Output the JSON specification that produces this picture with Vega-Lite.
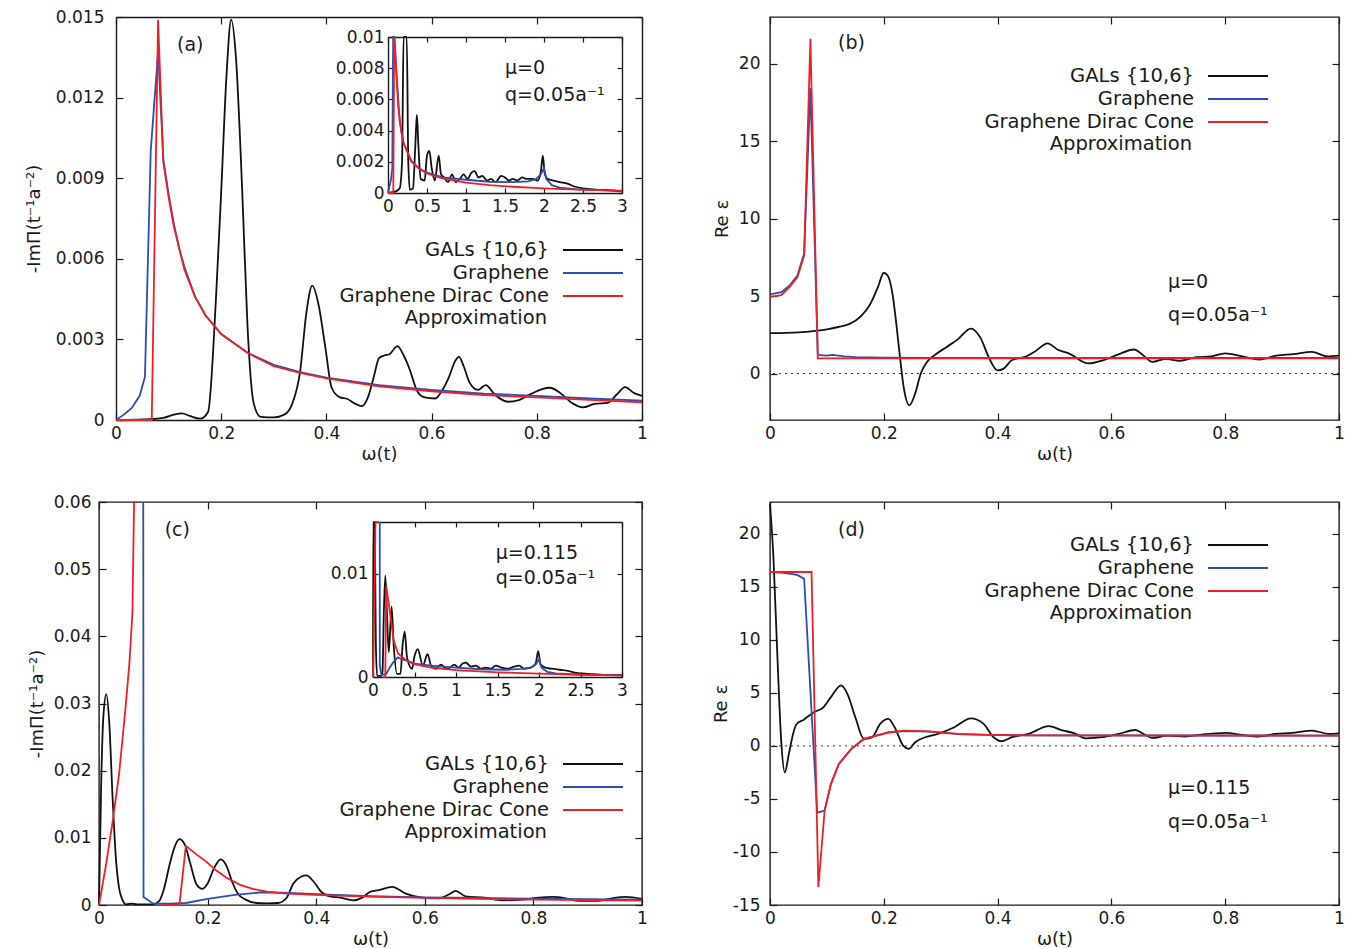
{
"$schema": "https://vega.github.io/schema/vega-lite/v6.json",
"background": "white",
"padding": {"left": 25, "top": 8, "right": 0, "bottom": 0},
"config": {
 "font": "DejaVu Sans",
 "view": {"stroke": "#1a1a1a", "strokeWidth": 1.4},
 "axis": {"grid": false, "domain": false, "labelFont": "DejaVu Sans", "labelFontSize": 17, "labelColor": "#1a1a1a", "tickColor": "#1a1a1a", "tickSize": -7, "tickWidth": 1.2, "titleFont": "DejaVu Sans", "titleFontSize": 18, "titleFontWeight": "normal", "titleColor": "#1a1a1a", "labelFlush": false, "labelOverlap": false, "domainColor": "#1a1a1a", "domainWidth": 1.4},
 "axisX": {"labelPadding": 12, "titlePadding": 4},
 "axisY": {"labelPadding": 19, "titlePadding": 12},
 "legend": {"orient": "none", "gridAlign": "each", "labelFont": "DejaVu Sans", "labelFontSize": 19.5, "labelColor": "#1a1a1a", "symbolType": "M-3,0H3", "symbolSize": 400, "symbolStrokeWidth": 2, "labelAlign": "right", "labelBaseline": "middle", "labelOffset": -55, "rowPadding": 2, "padding": 0, "labelLimit": 500},
 "text": {"font": "DejaVu Sans", "fontSize": 19, "color": "#1a1a1a", "align": "left", "baseline": "middle"},
 "line": {"strokeWidth": 1.8}
},
"datasets": {
 "a": [
  {"series":"GALs {10,6}","x":0,"y":0},{"series":"GALs {10,6}","x":0.05,"y":0.00002},{"series":"GALs {10,6}","x":0.09,"y":0.00008},{"series":"GALs {10,6}","x":0.11,"y":0.0002},{"series":"GALs {10,6}","x":0.125,"y":0.00025},{"series":"GALs {10,6}","x":0.14,"y":0.00015},{"series":"GALs {10,6}","x":0.16,"y":0.00005},{"series":"GALs {10,6}","x":0.175,"y":0.0003},{"series":"GALs {10,6}","x":0.19,"y":0.0045},{"series":"GALs {10,6}","x":0.2,"y":0.0085},{"series":"GALs {10,6}","x":0.21,"y":0.0128},{"series":"GALs {10,6}","x":0.219,"y":0.0149},{"series":"GALs {10,6}","x":0.228,"y":0.0135},{"series":"GALs {10,6}","x":0.24,"y":0.0085},{"series":"GALs {10,6}","x":0.25,"y":0.0035},{"series":"GALs {10,6}","x":0.262,"y":0.0006},{"series":"GALs {10,6}","x":0.275,"y":0.00012},{"series":"GALs {10,6}","x":0.3,"y":0.0001},{"series":"GALs {10,6}","x":0.32,"y":0.0002},{"series":"GALs {10,6}","x":0.335,"y":0.0006},{"series":"GALs {10,6}","x":0.35,"y":0.0018},{"series":"GALs {10,6}","x":0.362,"y":0.004},{"series":"GALs {10,6}","x":0.373,"y":0.005},{"series":"GALs {10,6}","x":0.385,"y":0.0043},{"series":"GALs {10,6}","x":0.398,"y":0.0027},{"series":"GALs {10,6}","x":0.41,"y":0.0012},{"series":"GALs {10,6}","x":0.425,"y":0.00085},{"series":"GALs {10,6}","x":0.44,"y":0.00078},{"series":"GALs {10,6}","x":0.455,"y":0.0006},{"series":"GALs {10,6}","x":0.468,"y":0.00052},{"series":"GALs {10,6}","x":0.48,"y":0.0009},{"series":"GALs {10,6}","x":0.49,"y":0.0016},{"series":"GALs {10,6}","x":0.5,"y":0.0023},{"series":"GALs {10,6}","x":0.51,"y":0.0024},{"series":"GALs {10,6}","x":0.52,"y":0.00245},{"series":"GALs {10,6}","x":0.535,"y":0.00275},{"series":"GALs {10,6}","x":0.547,"y":0.0024},{"series":"GALs {10,6}","x":0.558,"y":0.0019},{"series":"GALs {10,6}","x":0.572,"y":0.0011},{"series":"GALs {10,6}","x":0.585,"y":0.00085},{"series":"GALs {10,6}","x":0.607,"y":0.0008},{"series":"GALs {10,6}","x":0.62,"y":0.0011},{"series":"GALs {10,6}","x":0.633,"y":0.0016},{"series":"GALs {10,6}","x":0.645,"y":0.0022},{"series":"GALs {10,6}","x":0.652,"y":0.00235},{"series":"GALs {10,6}","x":0.661,"y":0.002},{"series":"GALs {10,6}","x":0.672,"y":0.0014},{"series":"GALs {10,6}","x":0.688,"y":0.00112},{"series":"GALs {10,6}","x":0.703,"y":0.0013},{"series":"GALs {10,6}","x":0.72,"y":0.00095},{"series":"GALs {10,6}","x":0.745,"y":0.00068},{"series":"GALs {10,6}","x":0.766,"y":0.00074},{"series":"GALs {10,6}","x":0.79,"y":0.00098},{"series":"GALs {10,6}","x":0.81,"y":0.00115},{"series":"GALs {10,6}","x":0.825,"y":0.0012},{"series":"GALs {10,6}","x":0.845,"y":0.001},{"series":"GALs {10,6}","x":0.868,"y":0.00062},{"series":"GALs {10,6}","x":0.887,"y":0.00047},{"series":"GALs {10,6}","x":0.91,"y":0.0006},{"series":"GALs {10,6}","x":0.935,"y":0.00064},{"series":"GALs {10,6}","x":0.952,"y":0.00095},{"series":"GALs {10,6}","x":0.968,"y":0.00122},{"series":"GALs {10,6}","x":0.985,"y":0.001},{"series":"GALs {10,6}","x":1,"y":0.0009},
  {"series":"Graphene","x":0,"y":0},{"series":"Graphene","x":0.015,"y":0.0002},{"series":"Graphene","x":0.03,"y":0.00045},{"series":"Graphene","x":0.045,"y":0.0009},{"series":"Graphene","x":0.055,"y":0.0016},{"series":"Graphene","x":0.066,"y":0.01},{"series":"Graphene","x":0.08,"y":0.0137},{"series":"Graphene","x":0.09,"y":0.0097},{"series":"Graphene","x":0.1,"y":0.0084},{"series":"Graphene","x":0.11,"y":0.0073},{"series":"Graphene","x":0.12,"y":0.0064},{"series":"Graphene","x":0.13,"y":0.0057},{"series":"Graphene","x":0.15,"y":0.0046},{"series":"Graphene","x":0.17,"y":0.0039},{"series":"Graphene","x":0.2,"y":0.0032},{"series":"Graphene","x":0.25,"y":0.0025},{"series":"Graphene","x":0.3,"y":0.00205},{"series":"Graphene","x":0.35,"y":0.00178},{"series":"Graphene","x":0.4,"y":0.00158},{"series":"Graphene","x":0.5,"y":0.0013},{"series":"Graphene","x":0.6,"y":0.00112},{"series":"Graphene","x":0.7,"y":0.00098},{"series":"Graphene","x":0.8,"y":0.0009},{"series":"Graphene","x":0.9,"y":0.0008},{"series":"Graphene","x":1,"y":0.00072},
  {"series":"Graphene Dirac Cone Approximation","x":0,"y":0},{"series":"Graphene Dirac Cone Approximation","x":0.068,"y":0},{"series":"Graphene Dirac Cone Approximation","x":0.08,"y":0.0149},{"series":"Graphene Dirac Cone Approximation","x":0.09,"y":0.0096},{"series":"Graphene Dirac Cone Approximation","x":0.1,"y":0.0083},{"series":"Graphene Dirac Cone Approximation","x":0.11,"y":0.0072},{"series":"Graphene Dirac Cone Approximation","x":0.12,"y":0.0064},{"series":"Graphene Dirac Cone Approximation","x":0.13,"y":0.0056},{"series":"Graphene Dirac Cone Approximation","x":0.15,"y":0.0046},{"series":"Graphene Dirac Cone Approximation","x":0.17,"y":0.0039},{"series":"Graphene Dirac Cone Approximation","x":0.2,"y":0.0032},{"series":"Graphene Dirac Cone Approximation","x":0.25,"y":0.0025},{"series":"Graphene Dirac Cone Approximation","x":0.3,"y":0.002},{"series":"Graphene Dirac Cone Approximation","x":0.35,"y":0.00175},{"series":"Graphene Dirac Cone Approximation","x":0.4,"y":0.00155},{"series":"Graphene Dirac Cone Approximation","x":0.5,"y":0.00125},{"series":"Graphene Dirac Cone Approximation","x":0.6,"y":0.00107},{"series":"Graphene Dirac Cone Approximation","x":0.7,"y":0.00093},{"series":"Graphene Dirac Cone Approximation","x":0.8,"y":0.00084},{"series":"Graphene Dirac Cone Approximation","x":0.9,"y":0.00075},{"series":"Graphene Dirac Cone Approximation","x":1,"y":0.00066}
 ],
 "ai": [
  {"series":"GALs {10,6}","x":0,"y":0},{"series":"GALs {10,6}","x":0.1,"y":0.0001},{"series":"GALs {10,6}","x":0.15,"y":0.0003},{"series":"GALs {10,6}","x":0.18,"y":0.002},{"series":"GALs {10,6}","x":0.2,"y":0.012},{"series":"GALs {10,6}","x":0.22,"y":0.015},{"series":"GALs {10,6}","x":0.24,"y":0.012},{"series":"GALs {10,6}","x":0.26,"y":0.002},{"series":"GALs {10,6}","x":0.28,"y":0.0002},{"series":"GALs {10,6}","x":0.32,"y":0.0003},{"series":"GALs {10,6}","x":0.35,"y":0.003},{"series":"GALs {10,6}","x":0.37,"y":0.005},{"series":"GALs {10,6}","x":0.39,"y":0.003},{"series":"GALs {10,6}","x":0.42,"y":0.0009},{"series":"GALs {10,6}","x":0.47,"y":0.0008},{"series":"GALs {10,6}","x":0.5,"y":0.0024},{"series":"GALs {10,6}","x":0.53,"y":0.0027},{"series":"GALs {10,6}","x":0.56,"y":0.0016},{"series":"GALs {10,6}","x":0.6,"y":0.0008},{"series":"GALs {10,6}","x":0.65,"y":0.0024},{"series":"GALs {10,6}","x":0.68,"y":0.0012},{"series":"GALs {10,6}","x":0.72,"y":0.001},{"series":"GALs {10,6}","x":0.77,"y":0.0007},{"series":"GALs {10,6}","x":0.82,"y":0.0012},{"series":"GALs {10,6}","x":0.87,"y":0.0007},{"series":"GALs {10,6}","x":0.92,"y":0.0009},{"series":"GALs {10,6}","x":0.97,"y":0.0012},{"series":"GALs {10,6}","x":1.02,"y":0.0009},{"series":"GALs {10,6}","x":1.07,"y":0.0013},{"series":"GALs {10,6}","x":1.11,"y":0.0014},{"series":"GALs {10,6}","x":1.16,"y":0.001},{"series":"GALs {10,6}","x":1.21,"y":0.0011},{"series":"GALs {10,6}","x":1.27,"y":0.0008},{"series":"GALs {10,6}","x":1.32,"y":0.0009},{"series":"GALs {10,6}","x":1.38,"y":0.0007},{"series":"GALs {10,6}","x":1.45,"y":0.0011},{"series":"GALs {10,6}","x":1.5,"y":0.001},{"series":"GALs {10,6}","x":1.55,"y":0.0008},{"series":"GALs {10,6}","x":1.6,"y":0.0009},{"series":"GALs {10,6}","x":1.66,"y":0.0008},{"series":"GALs {10,6}","x":1.72,"y":0.001},{"series":"GALs {10,6}","x":1.78,"y":0.0009},{"series":"GALs {10,6}","x":1.85,"y":0.0009},{"series":"GALs {10,6}","x":1.92,"y":0.0008},{"series":"GALs {10,6}","x":1.96,"y":0.0014},{"series":"GALs {10,6}","x":1.985,"y":0.0024},{"series":"GALs {10,6}","x":2.01,"y":0.0012},{"series":"GALs {10,6}","x":2.05,"y":0.0009},{"series":"GALs {10,6}","x":2.12,"y":0.0008},{"series":"GALs {10,6}","x":2.2,"y":0.0007},{"series":"GALs {10,6}","x":2.3,"y":0.0006},{"series":"GALs {10,6}","x":2.4,"y":0.0004},{"series":"GALs {10,6}","x":2.5,"y":0.0003},{"series":"GALs {10,6}","x":2.6,"y":0.00025},{"series":"GALs {10,6}","x":2.7,"y":0.0002},{"series":"GALs {10,6}","x":2.8,"y":0.0002},{"series":"GALs {10,6}","x":2.9,"y":0.00015},{"series":"GALs {10,6}","x":3,"y":0.0001},
  {"series":"Graphene","x":0,"y":0},{"series":"Graphene","x":0.04,"y":0.0009},{"series":"Graphene","x":0.055,"y":0.0016},{"series":"Graphene","x":0.066,"y":0.01},{"series":"Graphene","x":0.08,"y":0.0137},{"series":"Graphene","x":0.1,"y":0.0084},{"series":"Graphene","x":0.15,"y":0.0046},{"series":"Graphene","x":0.2,"y":0.0032},{"series":"Graphene","x":0.3,"y":0.00205},{"series":"Graphene","x":0.4,"y":0.00158},{"series":"Graphene","x":0.5,"y":0.0013},{"series":"Graphene","x":0.7,"y":0.001},{"series":"Graphene","x":1,"y":0.00085},{"series":"Graphene","x":1.3,"y":0.00072},{"series":"Graphene","x":1.6,"y":0.0007},{"series":"Graphene","x":1.8,"y":0.00075},{"series":"Graphene","x":1.9,"y":0.0009},{"series":"Graphene","x":1.96,"y":0.0012},{"series":"Graphene","x":2,"y":0.0016},{"series":"Graphene","x":2.03,"y":0.0009},{"series":"Graphene","x":2.1,"y":0.0005},{"series":"Graphene","x":2.2,"y":0.00035},{"series":"Graphene","x":2.4,"y":0.00025},{"series":"Graphene","x":2.7,"y":0.00018},{"series":"Graphene","x":3,"y":0.00012},
  {"series":"Graphene Dirac Cone Approximation","x":0,"y":0},{"series":"Graphene Dirac Cone Approximation","x":0.068,"y":0},{"series":"Graphene Dirac Cone Approximation","x":0.08,"y":0.0149},{"series":"Graphene Dirac Cone Approximation","x":0.09,"y":0.0096},{"series":"Graphene Dirac Cone Approximation","x":0.1,"y":0.0083},{"series":"Graphene Dirac Cone Approximation","x":0.13,"y":0.0056},{"series":"Graphene Dirac Cone Approximation","x":0.17,"y":0.0039},{"series":"Graphene Dirac Cone Approximation","x":0.2,"y":0.0032},{"series":"Graphene Dirac Cone Approximation","x":0.3,"y":0.002},{"series":"Graphene Dirac Cone Approximation","x":0.4,"y":0.00155},{"series":"Graphene Dirac Cone Approximation","x":0.5,"y":0.00125},{"series":"Graphene Dirac Cone Approximation","x":0.7,"y":0.00093},{"series":"Graphene Dirac Cone Approximation","x":1,"y":0.00066},{"series":"Graphene Dirac Cone Approximation","x":1.3,"y":0.0005},{"series":"Graphene Dirac Cone Approximation","x":1.6,"y":0.0004},{"series":"Graphene Dirac Cone Approximation","x":2,"y":0.0003},{"series":"Graphene Dirac Cone Approximation","x":2.5,"y":0.0002},{"series":"Graphene Dirac Cone Approximation","x":3,"y":0.00015}
 ],
 "b": [
  {"series":"GALs {10,6}","x":0,"y":2.6},{"series":"GALs {10,6}","x":0.05,"y":2.65},{"series":"GALs {10,6}","x":0.08,"y":2.75},{"series":"GALs {10,6}","x":0.1,"y":2.85},{"series":"GALs {10,6}","x":0.12,"y":3.0},{"series":"GALs {10,6}","x":0.14,"y":3.2},{"series":"GALs {10,6}","x":0.16,"y":3.7},{"series":"GALs {10,6}","x":0.175,"y":4.4},{"series":"GALs {10,6}","x":0.19,"y":5.6},{"series":"GALs {10,6}","x":0.2,"y":6.5},{"series":"GALs {10,6}","x":0.207,"y":6.3},{"series":"GALs {10,6}","x":0.215,"y":5.2},{"series":"GALs {10,6}","x":0.222,"y":3.2},{"series":"GALs {10,6}","x":0.228,"y":1.2},{"series":"GALs {10,6}","x":0.235,"y":-0.9},{"series":"GALs {10,6}","x":0.245,"y":-2.05},{"series":"GALs {10,6}","x":0.255,"y":-1.3},{"series":"GALs {10,6}","x":0.265,"y":0.0},{"series":"GALs {10,6}","x":0.275,"y":0.7},{"series":"GALs {10,6}","x":0.29,"y":1.2},{"series":"GALs {10,6}","x":0.31,"y":1.7},{"series":"GALs {10,6}","x":0.33,"y":2.2},{"series":"GALs {10,6}","x":0.353,"y":2.9},{"series":"GALs {10,6}","x":0.37,"y":2.3},{"series":"GALs {10,6}","x":0.385,"y":1.0},{"series":"GALs {10,6}","x":0.4,"y":0.2},{"series":"GALs {10,6}","x":0.41,"y":0.3},{"series":"GALs {10,6}","x":0.425,"y":0.85},{"series":"GALs {10,6}","x":0.45,"y":1.1},{"series":"GALs {10,6}","x":0.465,"y":1.4},{"series":"GALs {10,6}","x":0.488,"y":1.95},{"series":"GALs {10,6}","x":0.505,"y":1.55},{"series":"GALs {10,6}","x":0.525,"y":1.3},{"series":"GALs {10,6}","x":0.56,"y":0.65},{"series":"GALs {10,6}","x":0.585,"y":0.85},{"series":"GALs {10,6}","x":0.61,"y":1.2},{"series":"GALs {10,6}","x":0.64,"y":1.55},{"series":"GALs {10,6}","x":0.655,"y":1.2},{"series":"GALs {10,6}","x":0.672,"y":0.75},{"series":"GALs {10,6}","x":0.695,"y":0.95},{"series":"GALs {10,6}","x":0.72,"y":0.82},{"series":"GALs {10,6}","x":0.75,"y":1.05},{"series":"GALs {10,6}","x":0.775,"y":1.1},{"series":"GALs {10,6}","x":0.8,"y":1.3},{"series":"GALs {10,6}","x":0.83,"y":1.1},{"series":"GALs {10,6}","x":0.86,"y":0.9},{"series":"GALs {10,6}","x":0.89,"y":1.15},{"series":"GALs {10,6}","x":0.92,"y":1.25},{"series":"GALs {10,6}","x":0.952,"y":1.4},{"series":"GALs {10,6}","x":0.98,"y":1.1},{"series":"GALs {10,6}","x":1,"y":1.15},
  {"series":"Graphene","x":0,"y":5.1},{"series":"Graphene","x":0.02,"y":5.25},{"series":"Graphene","x":0.035,"y":5.7},{"series":"Graphene","x":0.048,"y":6.3},{"series":"Graphene","x":0.06,"y":7.75},{"series":"Graphene","x":0.071,"y":18.4},{"series":"Graphene","x":0.084,"y":1.2},{"series":"Graphene","x":0.1,"y":1.15},{"series":"Graphene","x":0.11,"y":1.2},{"series":"Graphene","x":0.13,"y":1.1},{"series":"Graphene","x":0.15,"y":1.05},{"series":"Graphene","x":0.2,"y":1.02},{"series":"Graphene","x":0.3,"y":1.0},{"series":"Graphene","x":1,"y":1.0},
  {"series":"Graphene Dirac Cone Approximation","x":0,"y":4.95},{"series":"Graphene Dirac Cone Approximation","x":0.02,"y":5.05},{"series":"Graphene Dirac Cone Approximation","x":0.035,"y":5.6},{"series":"Graphene Dirac Cone Approximation","x":0.048,"y":6.2},{"series":"Graphene Dirac Cone Approximation","x":0.06,"y":7.6},{"series":"Graphene Dirac Cone Approximation","x":0.071,"y":21.6},{"series":"Graphene Dirac Cone Approximation","x":0.084,"y":0.98},{"series":"Graphene Dirac Cone Approximation","x":1,"y":0.98}
 ],
 "c": [
  {"series":"GALs {10,6}","x":0,"y":0},{"series":"GALs {10,6}","x":0.004,"y":0.018},{"series":"GALs {10,6}","x":0.008,"y":0.028},{"series":"GALs {10,6}","x":0.0135,"y":0.0314},{"series":"GALs {10,6}","x":0.019,"y":0.027},{"series":"GALs {10,6}","x":0.025,"y":0.016},{"series":"GALs {10,6}","x":0.031,"y":0.0071},{"series":"GALs {10,6}","x":0.037,"y":0.0025},{"series":"GALs {10,6}","x":0.043,"y":0.0008},{"series":"GALs {10,6}","x":0.05,"y":0.0001},{"series":"GALs {10,6}","x":0.06,"y":0.0002},{"series":"GALs {10,6}","x":0.07,"y":0.0001},{"series":"GALs {10,6}","x":0.085,"y":0.0001},{"series":"GALs {10,6}","x":0.1,"y":0.0001},{"series":"GALs {10,6}","x":0.111,"y":0.0006},{"series":"GALs {10,6}","x":0.12,"y":0.0025},{"series":"GALs {10,6}","x":0.13,"y":0.006},{"series":"GALs {10,6}","x":0.14,"y":0.0088},{"series":"GALs {10,6}","x":0.148,"y":0.0098},{"series":"GALs {10,6}","x":0.158,"y":0.009},{"series":"GALs {10,6}","x":0.168,"y":0.0062},{"series":"GALs {10,6}","x":0.18,"y":0.003},{"series":"GALs {10,6}","x":0.19,"y":0.0024},{"series":"GALs {10,6}","x":0.2,"y":0.0032},{"series":"GALs {10,6}","x":0.212,"y":0.0055},{"series":"GALs {10,6}","x":0.224,"y":0.0068},{"series":"GALs {10,6}","x":0.235,"y":0.0058},{"series":"GALs {10,6}","x":0.245,"y":0.0035},{"series":"GALs {10,6}","x":0.255,"y":0.0018},{"series":"GALs {10,6}","x":0.27,"y":0.0008},{"series":"GALs {10,6}","x":0.29,"y":0.0003},{"series":"GALs {10,6}","x":0.31,"y":0.00025},{"series":"GALs {10,6}","x":0.33,"y":0.0003},{"series":"GALs {10,6}","x":0.345,"y":0.001},{"series":"GALs {10,6}","x":0.358,"y":0.0032},{"series":"GALs {10,6}","x":0.372,"y":0.0042},{"series":"GALs {10,6}","x":0.382,"y":0.0044},{"series":"GALs {10,6}","x":0.395,"y":0.0035},{"series":"GALs {10,6}","x":0.41,"y":0.0019},{"series":"GALs {10,6}","x":0.425,"y":0.0013},{"series":"GALs {10,6}","x":0.445,"y":0.0011},{"series":"GALs {10,6}","x":0.468,"y":0.0007},{"series":"GALs {10,6}","x":0.485,"y":0.0011},{"series":"GALs {10,6}","x":0.5,"y":0.002},{"series":"GALs {10,6}","x":0.515,"y":0.0022},{"series":"GALs {10,6}","x":0.54,"y":0.0027},{"series":"GALs {10,6}","x":0.565,"y":0.0017},{"series":"GALs {10,6}","x":0.595,"y":0.0011},{"series":"GALs {10,6}","x":0.625,"y":0.001},{"series":"GALs {10,6}","x":0.645,"y":0.0016},{"series":"GALs {10,6}","x":0.657,"y":0.0021},{"series":"GALs {10,6}","x":0.675,"y":0.0013},{"series":"GALs {10,6}","x":0.71,"y":0.0011},{"series":"GALs {10,6}","x":0.743,"y":0.0007},{"series":"GALs {10,6}","x":0.78,"y":0.0008},{"series":"GALs {10,6}","x":0.81,"y":0.0011},{"series":"GALs {10,6}","x":0.835,"y":0.0012},{"series":"GALs {10,6}","x":0.86,"y":0.001},{"series":"GALs {10,6}","x":0.884,"y":0.0006},{"series":"GALs {10,6}","x":0.915,"y":0.0006},{"series":"GALs {10,6}","x":0.945,"y":0.001},{"series":"GALs {10,6}","x":0.97,"y":0.0012},{"series":"GALs {10,6}","x":1,"y":0.0009},
  {"series":"Graphene","x":0.0815,"y":0.2},{"series":"Graphene","x":0.082,"y":0.0012},{"series":"Graphene","x":0.1,"y":0.0002},{"series":"Graphene","x":0.13,"y":0.0002},{"series":"Graphene","x":0.16,"y":0.0003},{"series":"Graphene","x":0.2,"y":0.0009},{"series":"Graphene","x":0.25,"y":0.0015},{"series":"Graphene","x":0.3,"y":0.0019},{"series":"Graphene","x":0.35,"y":0.0018},{"series":"Graphene","x":0.4,"y":0.0016},{"series":"Graphene","x":0.5,"y":0.0013},{"series":"Graphene","x":0.6,"y":0.00115},{"series":"Graphene","x":0.7,"y":0.00105},{"series":"Graphene","x":0.8,"y":0.00095},{"series":"Graphene","x":0.9,"y":0.00087},{"series":"Graphene","x":1,"y":0.0008},
  {"series":"Graphene Dirac Cone Approximation","seg":1,"x":0,"y":0},{"series":"Graphene Dirac Cone Approximation","seg":1,"x":0.0125,"y":0.0058},{"series":"Graphene Dirac Cone Approximation","seg":1,"x":0.0246,"y":0.0121},{"series":"Graphene Dirac Cone Approximation","seg":1,"x":0.037,"y":0.0195},{"series":"Graphene Dirac Cone Approximation","seg":1,"x":0.049,"y":0.0295},{"series":"Graphene Dirac Cone Approximation","seg":1,"x":0.056,"y":0.036},{"series":"Graphene Dirac Cone Approximation","seg":1,"x":0.0615,"y":0.0434},{"series":"Graphene Dirac Cone Approximation","seg":1,"x":0.0646,"y":0.06},{"series":"Graphene Dirac Cone Approximation","seg":1,"x":0.066,"y":0.2},
  {"series":"Graphene Dirac Cone Approximation","seg":2,"x":0.12,"y":0},{"series":"Graphene Dirac Cone Approximation","seg":2,"x":0.148,"y":0},{"series":"Graphene Dirac Cone Approximation","seg":2,"x":0.16,"y":0.0088},{"series":"Graphene Dirac Cone Approximation","seg":2,"x":0.18,"y":0.0075},{"series":"Graphene Dirac Cone Approximation","seg":2,"x":0.197,"y":0.0065},{"series":"Graphene Dirac Cone Approximation","seg":2,"x":0.215,"y":0.0052},{"series":"Graphene Dirac Cone Approximation","seg":2,"x":0.234,"y":0.0041},{"series":"Graphene Dirac Cone Approximation","seg":2,"x":0.26,"y":0.003},{"series":"Graphene Dirac Cone Approximation","seg":2,"x":0.283,"y":0.0024},{"series":"Graphene Dirac Cone Approximation","seg":2,"x":0.31,"y":0.002},{"series":"Graphene Dirac Cone Approximation","seg":2,"x":0.345,"y":0.0017},{"series":"Graphene Dirac Cone Approximation","seg":2,"x":0.4,"y":0.0015},{"series":"Graphene Dirac Cone Approximation","seg":2,"x":0.5,"y":0.00125},{"series":"Graphene Dirac Cone Approximation","seg":2,"x":0.6,"y":0.00105},{"series":"Graphene Dirac Cone Approximation","seg":2,"x":0.7,"y":0.0009},{"series":"Graphene Dirac Cone Approximation","seg":2,"x":0.85,"y":0.00075},{"series":"Graphene Dirac Cone Approximation","seg":2,"x":1,"y":0.00064}
 ],
 "ci": [
  {"series":"GALs {10,6}","x":0,"y":0},{"series":"GALs {10,6}","x":0.005,"y":0.03},{"series":"GALs {10,6}","x":0.02,"y":0.03},{"series":"GALs {10,6}","x":0.035,"y":0.003},{"series":"GALs {10,6}","x":0.05,"y":0.0001},{"series":"GALs {10,6}","x":0.1,"y":0.0001},{"series":"GALs {10,6}","x":0.115,"y":0.0006},{"series":"GALs {10,6}","x":0.13,"y":0.006},{"series":"GALs {10,6}","x":0.148,"y":0.0098},{"series":"GALs {10,6}","x":0.168,"y":0.0062},{"series":"GALs {10,6}","x":0.19,"y":0.0024},{"series":"GALs {10,6}","x":0.224,"y":0.0068},{"series":"GALs {10,6}","x":0.25,"y":0.003},{"series":"GALs {10,6}","x":0.29,"y":0.0003},{"series":"GALs {10,6}","x":0.33,"y":0.0003},{"series":"GALs {10,6}","x":0.358,"y":0.0032},{"series":"GALs {10,6}","x":0.382,"y":0.0044},{"series":"GALs {10,6}","x":0.41,"y":0.0019},{"series":"GALs {10,6}","x":0.47,"y":0.0008},{"series":"GALs {10,6}","x":0.5,"y":0.002},{"series":"GALs {10,6}","x":0.54,"y":0.0027},{"series":"GALs {10,6}","x":0.6,"y":0.0011},{"series":"GALs {10,6}","x":0.657,"y":0.0022},{"series":"GALs {10,6}","x":0.7,"y":0.0011},{"series":"GALs {10,6}","x":0.76,"y":0.0008},{"series":"GALs {10,6}","x":0.82,"y":0.0012},{"series":"GALs {10,6}","x":0.88,"y":0.0008},{"series":"GALs {10,6}","x":0.93,"y":0.0009},{"series":"GALs {10,6}","x":0.98,"y":0.0012},{"series":"GALs {10,6}","x":1.03,"y":0.0009},{"series":"GALs {10,6}","x":1.08,"y":0.0013},{"series":"GALs {10,6}","x":1.12,"y":0.0014},{"series":"GALs {10,6}","x":1.18,"y":0.001},{"series":"GALs {10,6}","x":1.24,"y":0.0011},{"series":"GALs {10,6}","x":1.3,"y":0.0008},{"series":"GALs {10,6}","x":1.36,"y":0.0009},{"series":"GALs {10,6}","x":1.42,"y":0.0008},{"series":"GALs {10,6}","x":1.48,"y":0.0011},{"series":"GALs {10,6}","x":1.55,"y":0.0009},{"series":"GALs {10,6}","x":1.62,"y":0.0008},{"series":"GALs {10,6}","x":1.7,"y":0.001},{"series":"GALs {10,6}","x":1.76,"y":0.0011},{"series":"GALs {10,6}","x":1.82,"y":0.0008},{"series":"GALs {10,6}","x":1.9,"y":0.0009},{"series":"GALs {10,6}","x":1.96,"y":0.0013},{"series":"GALs {10,6}","x":1.99,"y":0.0025},{"series":"GALs {10,6}","x":2.02,"y":0.0012},{"series":"GALs {10,6}","x":2.08,"y":0.0009},{"series":"GALs {10,6}","x":2.15,"y":0.0008},{"series":"GALs {10,6}","x":2.25,"y":0.0007},{"series":"GALs {10,6}","x":2.35,"y":0.0006},{"series":"GALs {10,6}","x":2.45,"y":0.0004},{"series":"GALs {10,6}","x":2.6,"y":0.0003},{"series":"GALs {10,6}","x":2.8,"y":0.0002},{"series":"GALs {10,6}","x":3,"y":0.0002},
  {"series":"Graphene","x":0.0815,"y":0.2},{"series":"Graphene","x":0.082,"y":0.0012},{"series":"Graphene","x":0.1,"y":0.0002},{"series":"Graphene","x":0.16,"y":0.0003},{"series":"Graphene","x":0.2,"y":0.0009},{"series":"Graphene","x":0.25,"y":0.0015},{"series":"Graphene","x":0.3,"y":0.0019},{"series":"Graphene","x":0.35,"y":0.0017},{"series":"Graphene","x":0.4,"y":0.0016},{"series":"Graphene","x":0.5,"y":0.0013},{"series":"Graphene","x":0.7,"y":0.0011},{"series":"Graphene","x":1,"y":0.0009},{"series":"Graphene","x":1.3,"y":0.00075},{"series":"Graphene","x":1.6,"y":0.0007},{"series":"Graphene","x":1.8,"y":0.00078},{"series":"Graphene","x":1.9,"y":0.0009},{"series":"Graphene","x":1.96,"y":0.0012},{"series":"Graphene","x":2,"y":0.0017},{"series":"Graphene","x":2.03,"y":0.0009},{"series":"Graphene","x":2.1,"y":0.0005},{"series":"Graphene","x":2.2,"y":0.00035},{"series":"Graphene","x":2.5,"y":0.00022},{"series":"Graphene","x":3,"y":0.00015},
  {"series":"Graphene Dirac Cone Approximation","seg":1,"x":0,"y":0},{"series":"Graphene Dirac Cone Approximation","seg":1,"x":0.02,"y":0.0095},{"series":"Graphene Dirac Cone Approximation","seg":1,"x":0.03,"y":0.015},{"series":"Graphene Dirac Cone Approximation","seg":1,"x":0.05,"y":0.03},{"series":"Graphene Dirac Cone Approximation","seg":1,"x":0.066,"y":0.2},
  {"series":"Graphene Dirac Cone Approximation","seg":2,"x":0.12,"y":0},{"series":"Graphene Dirac Cone Approximation","seg":2,"x":0.148,"y":0},{"series":"Graphene Dirac Cone Approximation","seg":2,"x":0.16,"y":0.0088},{"series":"Graphene Dirac Cone Approximation","seg":2,"x":0.2,"y":0.0065},{"series":"Graphene Dirac Cone Approximation","seg":2,"x":0.25,"y":0.0035},{"series":"Graphene Dirac Cone Approximation","seg":2,"x":0.3,"y":0.0023},{"series":"Graphene Dirac Cone Approximation","seg":2,"x":0.4,"y":0.0016},{"series":"Graphene Dirac Cone Approximation","seg":2,"x":0.5,"y":0.00125},{"series":"Graphene Dirac Cone Approximation","seg":2,"x":0.7,"y":0.0009},{"series":"Graphene Dirac Cone Approximation","seg":2,"x":1,"y":0.00066},{"series":"Graphene Dirac Cone Approximation","seg":2,"x":1.5,"y":0.00045},{"series":"Graphene Dirac Cone Approximation","seg":2,"x":2,"y":0.00032},{"series":"Graphene Dirac Cone Approximation","seg":2,"x":2.5,"y":0.00022},{"series":"Graphene Dirac Cone Approximation","seg":2,"x":3,"y":0.00015}
 ],
 "d": [
  {"series":"GALs {10,6}","x":0,"y":22.8},{"series":"GALs {10,6}","x":0.006,"y":17.8},{"series":"GALs {10,6}","x":0.013,"y":8.4},{"series":"GALs {10,6}","x":0.02,"y":0.2},{"series":"GALs {10,6}","x":0.026,"y":-2.5},{"series":"GALs {10,6}","x":0.033,"y":-0.8},{"series":"GALs {10,6}","x":0.04,"y":1.0},{"series":"GALs {10,6}","x":0.046,"y":2.0},{"series":"GALs {10,6}","x":0.06,"y":2.5},{"series":"GALs {10,6}","x":0.078,"y":3.2},{"series":"GALs {10,6}","x":0.093,"y":3.6},{"series":"GALs {10,6}","x":0.107,"y":4.6},{"series":"GALs {10,6}","x":0.125,"y":5.7},{"series":"GALs {10,6}","x":0.136,"y":4.9},{"series":"GALs {10,6}","x":0.15,"y":2.7},{"series":"GALs {10,6}","x":0.165,"y":0.66},{"series":"GALs {10,6}","x":0.179,"y":0.8},{"series":"GALs {10,6}","x":0.194,"y":2.1},{"series":"GALs {10,6}","x":0.208,"y":2.55},{"series":"GALs {10,6}","x":0.219,"y":1.76},{"series":"GALs {10,6}","x":0.234,"y":0.03},{"series":"GALs {10,6}","x":0.244,"y":-0.28},{"series":"GALs {10,6}","x":0.255,"y":0.35},{"series":"GALs {10,6}","x":0.273,"y":0.82},{"series":"GALs {10,6}","x":0.295,"y":1.13},{"series":"GALs {10,6}","x":0.324,"y":1.76},{"series":"GALs {10,6}","x":0.353,"y":2.6},{"series":"GALs {10,6}","x":0.375,"y":2.1},{"series":"GALs {10,6}","x":0.393,"y":0.82},{"series":"GALs {10,6}","x":0.407,"y":0.44},{"series":"GALs {10,6}","x":0.425,"y":0.82},{"series":"GALs {10,6}","x":0.454,"y":1.13},{"series":"GALs {10,6}","x":0.49,"y":1.86},{"series":"GALs {10,6}","x":0.512,"y":1.5},{"series":"GALs {10,6}","x":0.534,"y":1.2},{"series":"GALs {10,6}","x":0.555,"y":0.72},{"series":"GALs {10,6}","x":0.584,"y":0.82},{"series":"GALs {10,6}","x":0.613,"y":1.13},{"series":"GALs {10,6}","x":0.642,"y":1.5},{"series":"GALs {10,6}","x":0.657,"y":1.13},{"series":"GALs {10,6}","x":0.671,"y":0.75},{"series":"GALs {10,6}","x":0.7,"y":0.97},{"series":"GALs {10,6}","x":0.729,"y":0.88},{"series":"GALs {10,6}","x":0.758,"y":1.07},{"series":"GALs {10,6}","x":0.801,"y":1.23},{"series":"GALs {10,6}","x":0.83,"y":1.04},{"series":"GALs {10,6}","x":0.859,"y":0.88},{"series":"GALs {10,6}","x":0.888,"y":1.13},{"series":"GALs {10,6}","x":0.917,"y":1.23},{"series":"GALs {10,6}","x":0.953,"y":1.45},{"series":"GALs {10,6}","x":0.982,"y":1.13},{"series":"GALs {10,6}","x":1,"y":1.19},
  {"series":"Graphene","x":0,"y":16.4},{"series":"Graphene","x":0.02,"y":16.35},{"series":"Graphene","x":0.04,"y":16.2},{"series":"Graphene","x":0.049,"y":16.1},{"series":"Graphene","x":0.06,"y":15.75},{"series":"Graphene","x":0.083,"y":-6.3},{"series":"Graphene","x":0.096,"y":-6.1},{"series":"Graphene","x":0.107,"y":-3.6},{"series":"Graphene","x":0.121,"y":-1.7},{"series":"Graphene","x":0.143,"y":-0.28},{"series":"Graphene","x":0.165,"y":0.66},{"series":"Graphene","x":0.187,"y":0.97},{"series":"Graphene","x":0.208,"y":1.25},{"series":"Graphene","x":0.237,"y":1.4},{"series":"Graphene","x":0.28,"y":1.35},{"series":"Graphene","x":0.331,"y":1.12},{"series":"Graphene","x":0.382,"y":1.04},{"series":"Graphene","x":0.45,"y":1.0},{"series":"Graphene","x":1,"y":0.98},
  {"series":"Graphene Dirac Cone Approximation","x":0,"y":16.4},{"series":"Graphene Dirac Cone Approximation","x":0.073,"y":16.4},{"series":"Graphene Dirac Cone Approximation","x":0.085,"y":-13.3},{"series":"Graphene Dirac Cone Approximation","x":0.096,"y":-6.1},{"series":"Graphene Dirac Cone Approximation","x":0.107,"y":-3.6},{"series":"Graphene Dirac Cone Approximation","x":0.121,"y":-1.7},{"series":"Graphene Dirac Cone Approximation","x":0.143,"y":-0.28},{"series":"Graphene Dirac Cone Approximation","x":0.165,"y":0.66},{"series":"Graphene Dirac Cone Approximation","x":0.187,"y":0.97},{"series":"Graphene Dirac Cone Approximation","x":0.208,"y":1.29},{"series":"Graphene Dirac Cone Approximation","x":0.237,"y":1.45},{"series":"Graphene Dirac Cone Approximation","x":0.28,"y":1.38},{"series":"Graphene Dirac Cone Approximation","x":0.331,"y":1.13},{"series":"Graphene Dirac Cone Approximation","x":0.382,"y":1.04},{"series":"Graphene Dirac Cone Approximation","x":0.45,"y":1.0},{"series":"Graphene Dirac Cone Approximation","x":1,"y":0.97}
 ]
},
"columns": 2,
"align": {"row": "each", "column": "each"},
"spacing": {"row": 28, "column": 62},
"resolve": {"scale": {"color": "independent"}},
"concat": [
   {
    "width": 543, "height": 403,
    "view": {"stroke": null},
    "resolve": {"scale": {"x": "independent", "y": "independent"}},
    "layer": [
     {
      "data": {"name": "a"},
      "layer": [
       {
        "transform": [{"filter": "datum.series == 'GALs {10,6}'"}],
        "mark": {"type": "line", "interpolate": "monotone"},
        "encoding": {
         "x": {"field": "x", "type": "quantitative", "scale": {"domain": [0, 1], "range": [17, 543], "nice": false, "zero": false}, "axis": {"orient": "bottom", "values": [0, 0.2, 0.4, 0.6, 0.8, 1], "labelExpr": "toString(datum.value)", "title": "ω(t)", "domain": true}},
         "y": {"field": "y", "type": "quantitative", "scale": {"domain": [0, 0.015], "nice": false}, "axis": {"orient": "left", "offset": -17, "values": [0, 0.003, 0.006, 0.009, 0.012, 0.015], "labelExpr": "toString(datum.value)", "title": "-ImΠ(t⁻¹a⁻²)", "domain": true}},
         "color": {"field": "series", "type": "nominal", "scale": {"domain": ["GALs {10,6}", "Graphene", "Graphene Dirac Cone Approximation"], "range": ["#111111", "#2b4fae", "#ee1f26"]},
          "legend": {"title": null, "legendX": 483, "legendY": 222, "labelExpr": "datum.label == 'Graphene Dirac Cone Approximation' ? 'Graphene Dirac Cone' : datum.label"}}
        }
       },
       {
        "transform": [{"filter": "datum.series != 'GALs {10,6}'"}],
        "mark": {"type": "line"},
        "encoding": {
         "x": {"field": "x", "type": "quantitative", "axis": {"orient": "top", "values": [0, 0.2, 0.4, 0.6, 0.8, 1], "labels": false, "title": null, "domain": true}},
         "y": {"field": "y", "type": "quantitative", "axis": {"orient": "right", "values": [0, 0.003, 0.006, 0.009, 0.012, 0.015], "labels": false, "title": null, "domain": true}},
         "color": {"field": "series", "type": "nominal", "legend": null}
        }
       },
       {"data": {"values": [{}]}, "mark": {"type": "text"}, "encoding": {"x": {"datum": 0.116, "axis": null}, "y": {"datum": 0.01396, "axis": null}, "text": {"value": "(a)"}}},
       {"data": {"values": [{}]}, "mark": {"type": "text"}, "encoding": {"x": {"datum": 0.7395, "axis": null}, "y": {"datum": 0.0131, "axis": null}, "text": {"value": "μ=0"}}},
       {"data": {"values": [{}]}, "mark": {"type": "text"}, "encoding": {"x": {"datum": 0.7395, "axis": null}, "y": {"datum": 0.0121, "axis": null}, "text": {"value": "q=0.05a⁻¹"}}},
       {"data": {"values": [{}]}, "mark": {"type": "text", "align": "right", "fontSize": 19.5}, "encoding": {"x": {"datum": 0.8194, "axis": null}, "y": {"datum": 0.0038, "axis": null}, "text": {"value": "Approximation"}}}
      ]
     },
     {
      "data": {"name": "ai"},
      "layer": [
       {
        "transform": [{"filter": "datum.series == 'GALs {10,6}'"}],
        "mark": {"type": "line", "interpolate": "monotone"},
        "encoding": {
         "x": {"field": "x", "type": "quantitative", "scale": {"domain": [0, 3], "range": [289, 523], "nice": false, "zero": false}, "axis": {"orient": "bottom", "offset": -227, "values": [0, 0.5, 1, 1.5, 2, 2.5, 3], "labelExpr": "toString(datum.value)", "title": null, "domain": true, "tickSize": -5, "labelPadding": 10}},
         "y": {"field": "y", "type": "quantitative", "scale": {"domain": [0, 0.01], "range": [176, 20], "nice": false, "clamp": true}, "axis": {"orient": "left", "offset": -289, "values": [0, 0.002, 0.004, 0.006, 0.008, 0.01], "labelExpr": "toString(datum.value)", "title": null, "domain": true, "tickSize": -5, "labelPadding": 9}},
         "color": {"field": "series", "type": "nominal", "legend": null}
        }
       },
       {
        "transform": [{"filter": "datum.series != 'GALs {10,6}'"}],
        "mark": {"type": "line"},
        "encoding": {
         "x": {"field": "x", "type": "quantitative", "axis": {"orient": "top", "offset": -20, "values": [0, 0.5, 1, 1.5, 2, 2.5, 3], "labels": false, "title": null, "domain": true, "tickSize": -5}},
         "y": {"field": "y", "type": "quantitative", "axis": {"orient": "right", "offset": -20, "values": [0, 0.002, 0.004, 0.006, 0.008, 0.01], "labels": false, "title": null, "domain": true, "tickSize": -5}},
         "color": {"field": "series", "type": "nominal", "legend": null}
        }
       }
      ]
     }
    ]
   },
   {
    "width": 569, "height": 403,
    "data": {"name": "b"},
    "layer": [
     {"data": {"values": [{}]}, "mark": {"type": "rule", "strokeDash": [2, 4], "color": "#333333", "strokeWidth": 1}, "encoding": {"y": {"datum": 0, "axis": null}}},
     {
      "transform": [{"filter": "datum.series == 'GALs {10,6}'"}],
      "mark": {"type": "line", "interpolate": "monotone"},
      "encoding": {
       "x": {"field": "x", "type": "quantitative", "scale": {"domain": [0, 1], "nice": false, "zero": false}, "axis": {"orient": "bottom", "values": [0, 0.2, 0.4, 0.6, 0.8, 1], "labelExpr": "toString(datum.value)", "title": "ω(t)"}},
       "y": {"field": "y", "type": "quantitative", "scale": {"domain": [-3, 23], "nice": false, "zero": false}, "axis": {"orient": "left", "values": [0, 5, 10, 15, 20], "labelExpr": "toString(datum.value)", "title": "Re ε", "labelPadding": 17, "titlePadding": 7}},
       "color": {"field": "series", "type": "nominal", "scale": {"domain": ["GALs {10,6}", "Graphene", "Graphene Dirac Cone Approximation"], "range": ["#111111", "#2b4fae", "#ee1f26"]},
        "legend": {"title": null, "legendX": 457, "legendY": 48, "labelExpr": "datum.label == 'Graphene Dirac Cone Approximation' ? 'Graphene Dirac Cone' : datum.label"}}
      }
     },
     {
      "transform": [{"filter": "datum.series != 'GALs {10,6}'"}],
      "mark": {"type": "line"},
      "encoding": {
       "x": {"field": "x", "type": "quantitative", "axis": {"orient": "top", "values": [0, 0.2, 0.4, 0.6, 0.8, 1], "labels": false, "title": null}},
       "y": {"field": "y", "type": "quantitative", "axis": {"orient": "right", "values": [0, 5, 10, 15, 20], "labels": false, "title": null}},
       "color": {"field": "series", "type": "nominal", "legend": null}
      }
     },
     {"data": {"values": [{}]}, "mark": {"type": "text"}, "encoding": {"x": {"datum": 0.1195, "axis": null}, "y": {"datum": 21.32, "axis": null}, "text": {"value": "(b)"}}},
     {"data": {"values": [{}]}, "mark": {"type": "text"}, "encoding": {"x": {"datum": 0.6995, "axis": null}, "y": {"datum": 5.92, "axis": null}, "text": {"value": "μ=0"}}},
     {"data": {"values": [{}]}, "mark": {"type": "text"}, "encoding": {"x": {"datum": 0.6995, "axis": null}, "y": {"datum": 3.77, "axis": null}, "text": {"value": "q=0.05a⁻¹"}}},
     {"data": {"values": [{}]}, "mark": {"type": "text", "align": "right", "fontSize": 19.5}, "encoding": {"x": {"datum": 0.7417, "axis": null}, "y": {"datum": 14.81, "axis": null}, "text": {"value": "Approximation"}}}
    ]
   },
   {
    "width": 543, "height": 403,
    "resolve": {"scale": {"x": "independent", "y": "independent"}},
    "layer": [
     {
      "data": {"name": "c"},
      "layer": [
       {
        "transform": [{"filter": "datum.series == 'GALs {10,6}'"}],
        "mark": {"type": "line", "interpolate": "monotone"},
        "encoding": {
         "x": {"field": "x", "type": "quantitative", "scale": {"domain": [0, 1], "nice": false, "zero": false}, "axis": {"orient": "bottom", "values": [0, 0.2, 0.4, 0.6, 0.8, 1], "labelExpr": "toString(datum.value)", "title": "ω(t)"}},
         "y": {"field": "y", "type": "quantitative", "scale": {"domain": [0, 0.06], "nice": false, "clamp": true}, "axis": {"orient": "left", "values": [0, 0.01, 0.02, 0.03, 0.04, 0.05, 0.06], "labelExpr": "toString(datum.value)", "title": "-ImΠ(t⁻¹a⁻²)", "labelPadding": 15, "titlePadding": 7}},
         "color": {"field": "series", "type": "nominal", "scale": {"domain": ["GALs {10,6}", "Graphene", "Graphene Dirac Cone Approximation"], "range": ["#111111", "#2b4fae", "#ee1f26"]},
          "legend": {"title": null, "legendX": 483, "legendY": 251, "labelExpr": "datum.label == 'Graphene Dirac Cone Approximation' ? 'Graphene Dirac Cone' : datum.label"}}
        }
       },
       {
        "transform": [{"filter": "datum.series != 'GALs {10,6}'"}],
        "mark": {"type": "line"},
        "encoding": {
         "x": {"field": "x", "type": "quantitative", "axis": {"orient": "top", "values": [0, 0.2, 0.4, 0.6, 0.8, 1], "labels": false, "title": null}},
         "y": {"field": "y", "type": "quantitative", "axis": {"orient": "right", "values": [0, 0.01, 0.02, 0.03, 0.04, 0.05, 0.06], "labels": false, "title": null}},
         "color": {"field": "series", "type": "nominal", "legend": null},
         "detail": {"field": "seg", "type": "nominal"}
        }
       },
       {"data": {"values": [{}]}, "mark": {"type": "text"}, "encoding": {"x": {"datum": 0.121, "axis": null}, "y": {"datum": 0.0558, "axis": null}, "text": {"value": "(c)"}}},
       {"data": {"values": [{}]}, "mark": {"type": "text"}, "encoding": {"x": {"datum": 0.7305, "axis": null}, "y": {"datum": 0.05236, "axis": null}, "text": {"value": "μ=0.115"}}},
       {"data": {"values": [{}]}, "mark": {"type": "text"}, "encoding": {"x": {"datum": 0.7305, "axis": null}, "y": {"datum": 0.04864, "axis": null}, "text": {"value": "q=0.05a⁻¹"}}},
       {"data": {"values": [{}]}, "mark": {"type": "text", "align": "right", "fontSize": 19.5}, "encoding": {"x": {"datum": 0.825, "axis": null}, "y": {"datum": 0.01087, "axis": null}, "text": {"value": "Approximation"}}}
      ]
     },
     {
      "data": {"name": "ci"},
      "layer": [
       {
        "transform": [{"filter": "datum.series == 'GALs {10,6}'"}],
        "mark": {"type": "line", "interpolate": "monotone"},
        "encoding": {
         "x": {"field": "x", "type": "quantitative", "scale": {"domain": [0, 3], "range": [274, 523], "nice": false, "zero": false}, "axis": {"orient": "bottom", "offset": -228, "values": [0, 0.5, 1, 1.5, 2, 2.5, 3], "labelExpr": "toString(datum.value)", "title": null, "domain": true, "tickSize": -5, "labelPadding": 10}},
         "y": {"field": "y", "type": "quantitative", "scale": {"domain": [0, 0.015], "range": [175, 20], "nice": false, "clamp": true}, "axis": {"orient": "left", "offset": -274, "values": [0, 0.01], "labelExpr": "toString(datum.value)", "title": null, "domain": true, "tickSize": -5, "labelPadding": 10}},
         "color": {"field": "series", "type": "nominal", "legend": null}
        }
       },
       {
        "transform": [{"filter": "datum.series != 'GALs {10,6}'"}],
        "mark": {"type": "line"},
        "encoding": {
         "x": {"field": "x", "type": "quantitative", "axis": {"orient": "top", "offset": -20, "values": [0, 0.5, 1, 1.5, 2, 2.5, 3], "labels": false, "title": null, "domain": true, "tickSize": -5}},
         "y": {"field": "y", "type": "quantitative", "axis": {"orient": "right", "offset": -20, "values": [0, 0.01], "labels": false, "title": null, "domain": true, "tickSize": -5}},
         "color": {"field": "series", "type": "nominal", "legend": null},
         "detail": {"field": "seg", "type": "nominal"}
        }
       }
      ]
     }
    ]
   },
   {
    "width": 569, "height": 403,
    "data": {"name": "d"},
    "layer": [
     {"data": {"values": [{}]}, "mark": {"type": "rule", "strokeDash": [2, 4], "color": "#333333", "strokeWidth": 1}, "encoding": {"y": {"datum": 0, "axis": null}}},
     {
      "transform": [{"filter": "datum.series == 'GALs {10,6}'"}],
      "mark": {"type": "line", "interpolate": "monotone"},
      "encoding": {
       "x": {"field": "x", "type": "quantitative", "scale": {"domain": [0, 1], "nice": false, "zero": false}, "axis": {"orient": "bottom", "values": [0, 0.2, 0.4, 0.6, 0.8, 1], "labelExpr": "toString(datum.value)", "title": "ω(t)"}},
       "y": {"field": "y", "type": "quantitative", "scale": {"domain": [-15, 23], "nice": false, "zero": false}, "axis": {"orient": "left", "values": [-15, -10, -5, 0, 5, 10, 15, 20], "labelExpr": "toString(datum.value)", "title": "Re ε", "labelPadding": 17, "titlePadding": 2}},
       "color": {"field": "series", "type": "nominal", "scale": {"domain": ["GALs {10,6}", "Graphene", "Graphene Dirac Cone Approximation"], "range": ["#111111", "#2b4fae", "#ee1f26"]},
        "legend": {"title": null, "legendX": 457, "legendY": 32, "labelExpr": "datum.label == 'Graphene Dirac Cone Approximation' ? 'Graphene Dirac Cone' : datum.label"}}
      }
     },
     {
      "transform": [{"filter": "datum.series != 'GALs {10,6}'"}],
      "mark": {"type": "line"},
      "encoding": {
       "x": {"field": "x", "type": "quantitative", "axis": {"orient": "top", "values": [0, 0.2, 0.4, 0.6, 0.8, 1], "labels": false, "title": null}},
       "y": {"field": "y", "type": "quantitative", "axis": {"orient": "right", "values": [-15, -10, -5, 0, 5, 10, 15, 20], "labels": false, "title": null}},
       "color": {"field": "series", "type": "nominal", "legend": null}
      }
     },
     {"data": {"values": [{}]}, "mark": {"type": "text"}, "encoding": {"x": {"datum": 0.1195, "axis": null}, "y": {"datum": 20.36, "axis": null}, "text": {"value": "(d)"}}},
     {"data": {"values": [{}]}, "mark": {"type": "text"}, "encoding": {"x": {"datum": 0.6995, "axis": null}, "y": {"datum": -4.0, "axis": null}, "text": {"value": "μ=0.115"}}},
     {"data": {"values": [{}]}, "mark": {"type": "text"}, "encoding": {"x": {"datum": 0.6995, "axis": null}, "y": {"datum": -7.14, "axis": null}, "text": {"value": "q=0.05a⁻¹"}}},
     {"data": {"values": [{}]}, "mark": {"type": "text", "align": "right", "fontSize": 19.5}, "encoding": {"x": {"datum": 0.7417, "axis": null}, "y": {"datum": 12.53, "axis": null}, "text": {"value": "Approximation"}}}
    ]
   }
]
}
